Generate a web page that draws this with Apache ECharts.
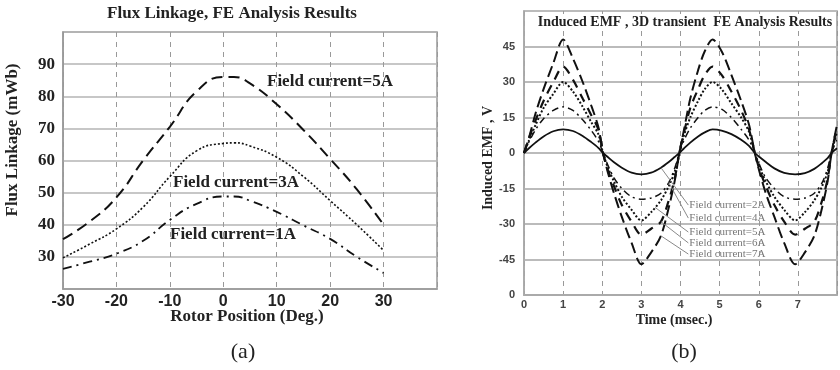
<!DOCTYPE html>
<html>
<head>
<meta charset="utf-8">
<script src="https://cdn.jsdelivr.net/npm/echarts@6/dist/echarts.min.js"></script>
<style>
  html, body { margin: 0; padding: 0; background: #fff; }
  #chart { width: 840px; height: 370px; }
</style>
</head>
<body>
<div id="chart"></div>
<script>
// (a) flux linkage vs rotor position
const rotorPos = [-30, -25, -20, -15, -10, -5, 0, 2, 5, 10, 15, 20, 25, 30];
const flux5A = [35.5, 41, 48.5, 60, 70.5, 81.5, 86, 86, 84, 77.5, 69.5, 60.5, 51, 40];
const flux3A = [29.7, 34, 38.7, 45.5, 55, 63, 65.3, 65.5, 64.5, 61, 55, 47.5, 40, 32];
const flux1A = [26.3, 28.5, 31, 35, 41.5, 46.5, 48.8, 48.8, 47.5, 44, 39.8, 35.6, 30, 25];

// (b) induced emf vs time (msec)
const timeMs = [0, 0.12, 0.3, 0.5, 0.75, 1.0, 1.25, 1.5, 1.72, 1.9, 2.02,
  2.14, 2.3, 2.5, 2.75, 3.0, 3.25, 3.5, 3.7, 3.85, 3.97,
  4.08, 4.25, 4.45, 4.62, 4.82, 5.05, 5.3, 5.55, 5.75, 5.9,
  6.02, 6.18, 6.4, 6.65, 6.93, 7.18, 7.42, 7.62, 7.76, 7.86, 8.0];
const emf7A = [0, 6, 17, 27, 38, 48, 40, 30, 20, 11, 0,
  -8, -17, -27, -38, -47, -42, -35, -23, -12, 0,
  9, 23, 35, 43, 48, 43, 33, 22, 12, 0,
  -8, -17, -27, -38, -47, -42, -35, -23, -12, 0, 12];
const emf6A = [0, 6, 14, 22, 30, 36.5, 31, 23, 16, 10, 0,
  -7, -14, -22, -29, -34.5, -32, -29, -20, -11, 0,
  8, 19, 27, 33, 36.5, 33, 26, 18, 10, 0,
  -7, -14, -22, -29, -34.5, -32, -29, -20, -11, 0, 11];
const emf5A = [0, 5, 12, 19, 25, 30, 26, 19.5, 13, 8, 0,
  -6, -12, -18.5, -24, -28.5, -25, -20, -14, -8, 0,
  7, 15, 22, 27, 30, 27, 21, 15, 9, 0,
  -6, -12, -18.5, -24, -28.5, -25, -20, -14, -8, 0, 9];
const emf4A = [0, 4.5, 10, 14.5, 18, 19.5, 18, 14, 9.5, 5, 0,
  -5, -10.5, -15, -18.5, -19.5, -19, -17, -12.5, -6.5, 0,
  5, 10.5, 15, 18, 19.5, 18.5, 15, 10, 5.5, 0,
  -5, -10.5, -15, -18.5, -19.5, -19, -17, -12.5, -6.5, 0, 6];
const emf2A = [0, 1.9, 4.5, 7, 9.2, 10, 9.3, 7.2, 4.6, 2.2, 0,
  -1.7, -3.9, -6.2, -8.3, -9, -8.3, -6.2, -3.8, -1.7, 0,
  1.8, 4.4, 7, 8.7, 10, 9.5, 8, 5.6, 3, 0,
  -1.7, -3.8, -6.5, -8.4, -9, -8.5, -6.7, -4.2, -2.2, 0, 2];

const SERIF = '"Liberation Serif", "DejaVu Serif", serif';
const SANS = '"Liberation Sans", Arial, sans-serif';

const pairs = (xs, ys) => xs.map((x, i) => [x, ys[i]]);

// grey leader line + label for the (b) annotations
function tag(label, from, to) {
  return {
    markLine: {
      silent: true,
      symbol: 'none',
      label: { show: false },
      lineStyle: { color: '#8a8a8a', width: 1, type: 'solid' },
      data: [[{ coord: from }, { coord: to }]],
    },
    markPoint: {
      silent: true,
      symbol: 'circle',
      symbolSize: 0,
      data: [{ coord: to }],
      label: {
        show: true,
        position: 'right',
        distance: 1,
        formatter: label,
        color: '#777',
        fontFamily: SERIF,
        fontSize: 11,
      },
    },
  };
}

function txt(text, x, y, font, opts) {
  return Object.assign({
    type: 'text',
    x: x,
    y: y,
    z: 100,
    style: {
      text: text,
      font: font,
      fill: '#222',
      align: 'center',
      verticalAlign: 'middle',
    },
  }, opts || {});
}

const chart = echarts.init(document.getElementById('chart'));

const option = {
  animation: false,
  backgroundColor: '#fff',
  grid: [
    { left: 63, top: 32, width: 374, height: 257, show: true, borderColor: '#999', borderWidth: 1.5 },
    { left: 524, top: 11, width: 325, height: 284, show: true, borderColor: '#999', borderWidth: 1.5 },
  ],
  xAxis: [
    {
      gridIndex: 0, type: 'value', min: -30, max: 40, interval: 10,
      axisLine: { onZero: false, lineStyle: { color: '#999', width: 1.5 } },
      axisTick: { show: false },
      axisLabel: {
        formatter: (v) => (v === 40 ? '' : String(v)),
        fontFamily: SANS, fontWeight: 'bold', fontSize: 16, color: '#222', margin: 5,
      },
      splitLine: { show: true, lineStyle: { color: '#999', type: [5, 5], width: 1 } },
    },
    {
      gridIndex: 1, type: 'value', min: 0, max: 8, interval: 1,
      axisLine: { onZero: false, lineStyle: { color: '#aaa', width: 2 } },
      axisTick: { show: false },
      axisLabel: {
        formatter: (v) => (v === 8 ? '' : String(v)),
        fontFamily: SANS, fontWeight: 'bold', fontSize: 11, color: '#444', margin: 4,
      },
      splitLine: { show: true, lineStyle: { color: '#999', type: [5, 5], width: 1 } },
    },
  ],
  yAxis: [
    {
      gridIndex: 0, type: 'value', min: 20, max: 100, interval: 10,
      axisLine: { show: true, onZero: false, lineStyle: { color: '#999', width: 1.5 } },
      axisTick: { show: false },
      axisLabel: {
        formatter: (v) => (v < 30 || v > 90 ? '' : String(v)),
        fontFamily: SERIF, fontWeight: 'bold', fontSize: 17, color: '#222', margin: 8,
      },
      splitLine: { lineStyle: { color: '#b5b5b5', width: 1.5 } },
    },
    {
      gridIndex: 1, type: 'value', min: -60, max: 60, interval: 15,
      axisLine: { show: true, onZero: false, lineStyle: { color: '#aaa', width: 1.5 } },
      axisTick: { show: false },
      axisLabel: {
        formatter: (v) => (v === 60 ? '' : v === -60 ? '0' : String(v)),
        fontFamily: SANS, fontWeight: 'bold', fontSize: 11, color: '#444', margin: 9,
      },
      splitLine: { lineStyle: { color: '#bbb', width: 2 } },
    },
  ],
  series: [
    {
      type: 'line', xAxisIndex: 0, yAxisIndex: 0, smooth: true, showSymbol: false,
      data: pairs(rotorPos, flux5A),
      lineStyle: { color: '#111', width: 2, type: [11, 6] },
    },
    {
      type: 'line', xAxisIndex: 0, yAxisIndex: 0, smooth: true, showSymbol: false,
      data: pairs(rotorPos, flux3A),
      lineStyle: { color: '#111', width: 1.6, type: [2, 2] },
    },
    {
      type: 'line', xAxisIndex: 0, yAxisIndex: 0, smooth: true, showSymbol: false,
      data: pairs(rotorPos, flux1A),
      lineStyle: { color: '#111', width: 1.8, type: [9, 5, 2, 5] },
    },
    Object.assign({
      type: 'line', xAxisIndex: 1, yAxisIndex: 1, smooth: 0.3, showSymbol: false,
      data: pairs(timeMs, emf2A),
      lineStyle: { color: '#111', width: 1.8 },
    }, tag('Field current=2A', [3.5, -6.2], [4.2, -22])),
    Object.assign({
      type: 'line', xAxisIndex: 1, yAxisIndex: 1, smooth: 0.3, showSymbol: false,
      data: pairs(timeMs, emf4A),
      lineStyle: { color: '#111', width: 1.5, type: [7, 4, 2, 4] },
    }, tag('Field current=4A', [3.7, -12.5], [4.2, -27.5])),
    Object.assign({
      type: 'line', xAxisIndex: 1, yAxisIndex: 1, smooth: 0.3, showSymbol: false,
      data: pairs(timeMs, emf5A),
      lineStyle: { color: '#111', width: 2, type: [2, 2] },
    }, tag('Field current=5A', [3.35, -23], [4.2, -33.4])),
    Object.assign({
      type: 'line', xAxisIndex: 1, yAxisIndex: 1, smooth: 0.3, showSymbol: false,
      data: pairs(timeMs, emf6A),
      lineStyle: { color: '#111', width: 2.2, type: [9, 7] },
    }, tag('Field current=6A', [3.5, -29], [4.2, -38])),
    Object.assign({
      type: 'line', xAxisIndex: 1, yAxisIndex: 1, smooth: 0.3, showSymbol: false,
      data: pairs(timeMs, emf7A),
      lineStyle: { color: '#111', width: 2, type: [11, 5] },
    }, tag('Field current=7A', [3.5, -35], [4.2, -42.7])),
  ],
  graphic: [
    txt('Flux Linkage, FE Analysis Results', 232, 14, 'bold 17px ' + SERIF),
    txt('Induced EMF , 3D transient  FE Analysis Results', 685, 22, 'bold 14px ' + SERIF,
      { style: { text: 'Induced EMF , 3D transient  FE Analysis Results', font: 'bold 14px ' + SERIF,
        fill: '#222', align: 'center', verticalAlign: 'middle', backgroundColor: '#fff', padding: [1, 2] } }),
    txt('Field current=5A', 330, 82, 'bold 17px ' + SERIF),
    txt('Field current=3A', 236, 183, 'bold 17px ' + SERIF),
    txt('Field current=1A', 233, 235, 'bold 17px ' + SERIF),
    txt('Rotor Position (Deg.)', 247, 317, 'bold 17px ' + SERIF),
    txt('Time (msec.)', 674, 320, 'bold 14px ' + SERIF),
    txt('Flux Linkage (mWb)', 13, 140, 'bold 17px ' + SERIF, { rotation: Math.PI / 2 }),
    txt('Induced EMF , V', 488, 158, 'bold 14px ' + SERIF, { rotation: Math.PI / 2 }),
    txt('(a)', 243, 352, '22px ' + SERIF),
    txt('(b)', 684, 352, '22px ' + SERIF),
  ],
};

chart.setOption(option);
</script>
</body>
</html>
